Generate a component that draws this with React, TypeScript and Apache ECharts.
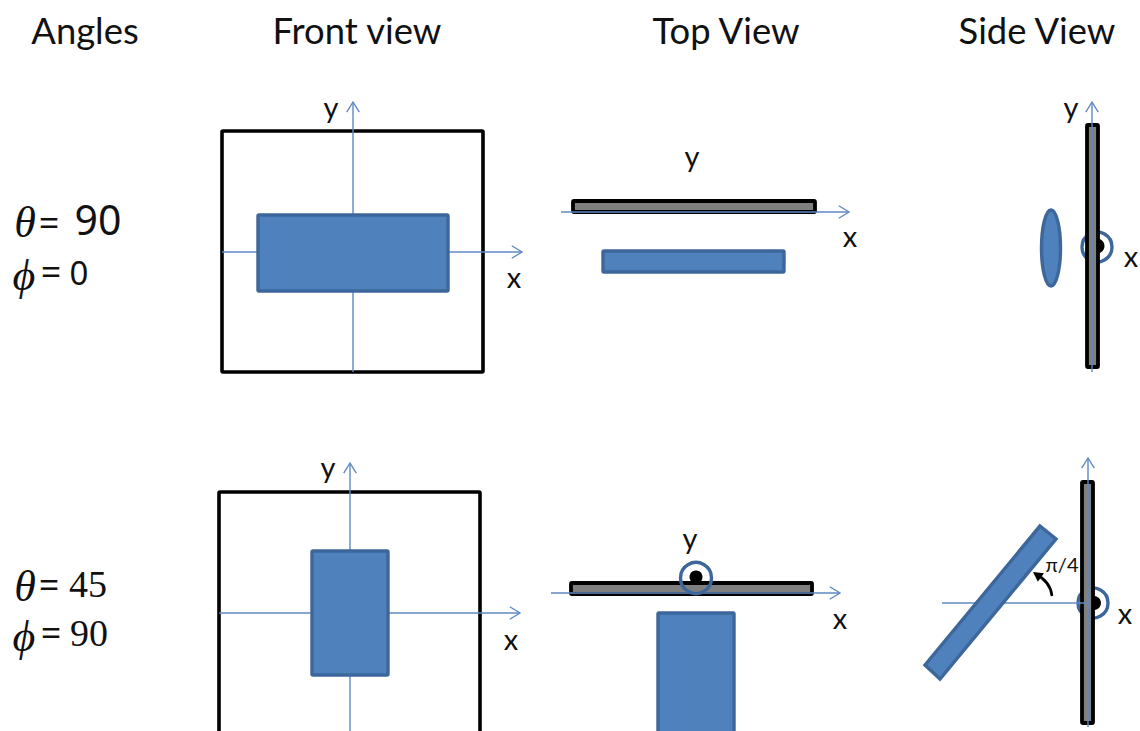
import React, { useEffect, useRef } from "react";
import * as echarts from "echarts";

const WIDTH = 1140;
const HEIGHT = 731;

// [x0, y0, x1, y1]
const frames = [
  [222, 131, 483, 372],
  [219, 492, 480, 760],
];
const axes = [
  [353, 372, 353, 102],
  [222, 252, 522, 252],
  [561, 212, 849, 212],
  [1092, 372, 1092, 102],
  [350, 745, 350, 463],
  [219, 613, 520, 613],
  [551, 593, 840, 593],
  [1088, 727, 1088, 458],
];
const plainAxes = [[942, 603, 1090, 603]];
const plates = [
  [573, 201, 815, 212],
  [1087, 125, 1098, 367],
  [571, 583, 812, 594],
  [1082, 482, 1093, 723],
];
const blueRects = [
  [258, 215, 448, 291],
  [603, 251, 784, 272],
  [312, 551, 388, 675],
  [658, 613, 734, 760],
];
// [cx, cy, rx, ry]
const blueEllipses = [[1051, 248, 9.5, 38]];
// four corners
const tiltedRects = [[1040, 526, 1056, 539, 940, 679, 925, 665]];
// [cx, cy, r]
const dots = [
  [1097, 246, 7.5],
  [696, 577, 6.5],
  [1094, 603, 7],
];
const ringsBehind = [
  [1097, 247, 15],
  [1093, 603, 15],
];
const ringsFront = [[696, 578, 15.5]];
// [x1, y1, cpx1, cpy1, cpx2, cpy2, x2, y2]
const curves = [[1052, 596, 1051, 586, 1045, 579, 1036, 574]];
// arrow head tip [x, y, angleDeg]
const curveTips = [[1033, 572, -145]];

const titles = ["Angles", "Front view", "Top View", "Side View"];
const titleAnchors = [[85, 30], [357, 30], [726, 30], [1037, 30]];
const axisNames = ["y", "x", "y", "x", "y", "x", "y", "x", "y", "x", "x"];
const axisNameAnchors = [
  [331, 106], [514, 276], [692, 155], [850, 235], [1071, 106], [1131, 255],
  [328, 466], [511, 638], [690, 537], [840, 617], [1125, 612],
];
const angleNames = ["θ", "ϕ", "θ", "ϕ"];
const angleAnchors = [[25, 222], [24, 275], [25, 586], [24, 636]];
const equals = ["=", "=", "=", "="];
const equalAnchors = [[49, 222], [51, 271], [49, 584], [51, 632]];
const bigValues = ["90"];
const bigAnchors = [[98, 219]];
const smallValues = ["0"];
const smallAnchors = [[79, 272]];
const serifValues = ["45", "90"];
const serifAnchors = [[88, 584], [89, 633]];
const angleLabel = ["π/4"];
const angleLabelAnchors = [[1062, 564]];

const BLUE = "#4f81bd";
const BLUE_EDGE = "#3d679a";
const AXIS = "#5f8ac2";
const SANS = "Lato, 'Open Sans', sans-serif";
const DIGITS = "'Noto Sans', sans-serif";
const SERIF = "'Liberation Serif', serif";

type Api = { value: (i: number) => number; coord: (p: number[]) => number[] };

function pts(api: Api, n: number) {
  const out: number[][] = [];
  for (let i = 0; i < n; i++) out.push(api.coord([api.value(2 * i), api.value(2 * i + 1)]));
  return out;
}

function layer(data: number[][], draw: (api: Api, index: number) => any) {
  return {
    type: "custom",
    coordinateSystem: "cartesian2d",
    silent: true,
    clip: false,
    data,
    encode: { x: 0, y: 1 },
    renderItem: (params: any, api: Api) => draw(api, params.dataIndex),
  };
}

function rectLayer(data: number[][], style: any) {
  return layer(data, (api) => {
    const [a, b] = pts(api, 2);
    return {
      type: "rect",
      shape: { x: a[0], y: a[1], width: b[0] - a[0], height: b[1] - a[1], r: 1 },
      style,
    };
  });
}

function circleLayer(data: number[][], style: any) {
  return layer(data, (api) => {
    const [c] = pts(api, 1);
    return { type: "circle", shape: { cx: c[0], cy: c[1], r: api.value(2) }, style };
  });
}

function arrowLayer(data: number[][], withHead: boolean) {
  const style = { stroke: AXIS, lineWidth: 1.4, fill: "none" };
  return layer(data, (api) => {
    const [a, b] = pts(api, 2);
    const children: any[] = [
      { type: "line", shape: { x1: a[0], y1: a[1], x2: b[0], y2: b[1] }, style },
    ];
    if (withHead) {
      const ang = Math.atan2(b[1] - a[1], b[0] - a[0]);
      const len = 12;
      const spread = 0.55;
      children.push({
        type: "polyline",
        shape: {
          points: [
            [b[0] - len * Math.cos(ang - spread), b[1] - len * Math.sin(ang - spread)],
            b,
            [b[0] - len * Math.cos(ang + spread), b[1] - len * Math.sin(ang + spread)],
          ],
        },
        style,
      });
    }
    return { type: "group", children };
  });
}

function textLayer(texts: string[], anchors: number[][], fontSize: number, fontFamily: string, fontStyle = "normal", fill = "#111") {
  return layer(anchors, (api, index) => {
    const [c] = pts(api, 1);
    return {
      type: "text",
      x: c[0],
      y: c[1],
      style: { text: texts[index], fontSize, fontFamily, fontStyle, fill, align: "center", verticalAlign: "middle" },
    };
  });
}

export default function App() {
  const ref = useRef<HTMLDivElement>(null);
  useEffect(() => {
    document.body.style.margin = "0";
    const chart = echarts.init(ref.current!, undefined, { renderer: "svg" });
    chart.setOption({
      animation: false,
      backgroundColor: "#ffffff",
      grid: { left: 0, right: 0, top: 0, bottom: 0 },
      xAxis: { type: "value", min: 0, max: WIDTH, show: false },
      yAxis: { type: "value", min: 0, max: HEIGHT, inverse: true, show: false },
      series: [
        rectLayer(frames, { fill: "none", stroke: "#000", lineWidth: 3.6 }),
        circleLayer(dots, { fill: "#000" }),
        circleLayer(ringsBehind, { fill: "none", stroke: BLUE_EDGE, lineWidth: 3.4 }),
        rectLayer(plates, { fill: "#7f7f7f", stroke: "#000", lineWidth: 3.8 }),
        arrowLayer(axes, true),
        arrowLayer(plainAxes, false),
        rectLayer(blueRects, { fill: BLUE, stroke: BLUE_EDGE, lineWidth: 3.4 }),
        layer(blueEllipses, (api) => {
          const [c] = pts(api, 1);
          return {
            type: "ellipse",
            shape: { cx: c[0], cy: c[1], rx: api.value(2), ry: api.value(3) },
            style: { fill: BLUE, stroke: BLUE_EDGE, lineWidth: 3.4 },
          };
        }),
        layer(tiltedRects, (api) => ({
          type: "polygon",
          shape: { points: pts(api, 4) },
          style: { fill: BLUE, stroke: BLUE_EDGE, lineWidth: 3.4 },
        })),
        circleLayer(ringsFront, { fill: "none", stroke: BLUE_EDGE, lineWidth: 3.4 }),
        layer(curves, (api) => {
          const [a, c1, c2, b] = pts(api, 4);
          return {
            type: "bezierCurve",
            shape: { x1: a[0], y1: a[1], cpx1: c1[0], cpy1: c1[1], cpx2: c2[0], cpy2: c2[1], x2: b[0], y2: b[1] },
            style: { fill: "none", stroke: "#000", lineWidth: 2.6 },
          };
        }),
        layer(curveTips, (api) => {
          const [t] = pts(api, 1);
          const ang = (api.value(2) * Math.PI) / 180;
          const len = 11;
          const spread = 0.5;
          return {
            type: "polygon",
            shape: {
              points: [
                t,
                [t[0] - len * Math.cos(ang - spread), t[1] - len * Math.sin(ang - spread)],
                [t[0] - len * Math.cos(ang + spread), t[1] - len * Math.sin(ang + spread)],
              ],
            },
            style: { fill: "#000" },
          };
        }),
        textLayer(titles, titleAnchors, 36.4, SANS),
        textLayer(axisNames, axisNameAnchors, 29, SANS),
        textLayer(angleNames, angleAnchors, 44, SERIF, "italic"),
        textLayer(equals, equalAnchors, 36, DIGITS),
        textLayer(bigValues, bigAnchors, 41, DIGITS),
        textLayer(smallValues, smallAnchors, 33, DIGITS),
        textLayer(serifValues, serifAnchors, 38, SERIF),
        textLayer(angleLabel, angleLabelAnchors, 20, SANS),
      ],
    });
    return () => chart.dispose();
  }, []);
  return <div ref={ref} style={{ width: WIDTH, height: HEIGHT }} />;
}
